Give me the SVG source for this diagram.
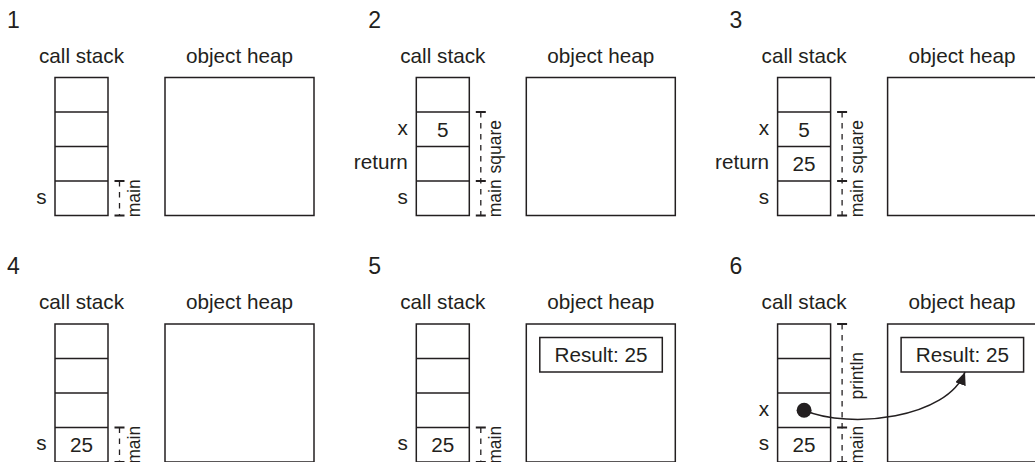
<svg xmlns="http://www.w3.org/2000/svg" xmlns:xlink="http://www.w3.org/1999/xlink" width="1035" height="462" viewBox="0 0 1035 462">
<style>
.t{font-family:"Liberation Sans",Arial,sans-serif;fill:#231f20}
.num{font-size:23px}
.h{font-size:20.7px;text-anchor:middle}
.lbl{font-size:20.7px;text-anchor:end}
.val{font-size:20.7px;text-anchor:middle}
.rot{font-size:17.5px;text-anchor:middle}
.box{fill:none;stroke:#231f20;stroke-width:1.5}
.dash{fill:none;stroke:#231f20;stroke-width:1.3;stroke-dasharray:5.5 5.5}
.tick{fill:none;stroke:#231f20;stroke-width:2}
.conn{fill:none;stroke:#231f20;stroke-width:1.5}
</style>
<defs>
<g id="stackShape"><rect x="55" y="77.5" width="53" height="138" class="box"/><path d="M55 112H108M55 146.5H108M55 181H108" class="box"/></g>
<rect id="heapShape" x="165" y="77.5" width="149" height="138" class="box"/>
<g id="heads"><text class="t h" x="81.5" y="62.7">call stack</text><text class="t h" x="239.5" y="62.7">object heap</text></g>
<marker id="arrow" markerUnits="userSpaceOnUse" markerWidth="14" markerHeight="12" refX="13" refY="5.5" orient="auto"><path d="M0,0 L13,5.5 L0,11 Z" fill="#231f20"/></marker>
</defs>
<rect width="1035" height="462" fill="#fff"/>

<g id="panel1">
<text class="t num" x="7" y="27.5">1</text>
<use xlink:href="#heads"/>
<use xlink:href="#stackShape"/>
<use xlink:href="#heapShape"/>
<text class="t lbl" x="46.5" y="203.6">s</text>
<path class="dash" d="M119.5 181V215.5"/>
<path class="tick" d="M114.5 181H124.5M114.5 215.5H124.5"/>
<text class="t rot" transform="translate(140,198.25) rotate(-90)">main</text>
</g>

<g id="panel2" transform="translate(361.3,0)">
<text class="t num" x="7" y="27.5">2</text>
<use xlink:href="#heads"/>
<use xlink:href="#stackShape"/>
<use xlink:href="#heapShape"/>
<text class="t lbl" x="46.5" y="134.6">x</text>
<text class="t lbl" x="46.5" y="169.1">return</text>
<text class="t lbl" x="46.5" y="203.6">s</text>
<text class="t val" x="81.5" y="136.6">5</text>
<path class="dash" d="M119.5 112V215.5"/>
<path class="tick" d="M114.5 112H124.5M114.5 181H124.5M114.5 215.5H124.5"/>
<text class="t rot" transform="translate(140,146.75) rotate(-90)">square</text>
<text class="t rot" transform="translate(140,198.25) rotate(-90)">main</text>
</g>

<g id="panel3" transform="translate(722.6,0)">
<text class="t num" x="7" y="27.5">3</text>
<use xlink:href="#heads"/>
<use xlink:href="#stackShape"/>
<use xlink:href="#heapShape"/>
<text class="t lbl" x="46.5" y="134.6">x</text>
<text class="t lbl" x="46.5" y="169.1">return</text>
<text class="t lbl" x="46.5" y="203.6">s</text>
<text class="t val" x="81.5" y="136.6">5</text>
<text class="t val" x="81.5" y="171.2">25</text>
<path class="dash" d="M119.5 112V215.5"/>
<path class="tick" d="M114.5 112H124.5M114.5 181H124.5M114.5 215.5H124.5"/>
<text class="t rot" transform="translate(140,146.75) rotate(-90)">square</text>
<text class="t rot" transform="translate(140,198.25) rotate(-90)">main</text>
</g>

<g id="panel4" transform="translate(0,246.5)">
<text class="t num" x="7" y="27.5">4</text>
<use xlink:href="#heads"/>
<use xlink:href="#stackShape"/>
<use xlink:href="#heapShape"/>
<text class="t lbl" x="46.5" y="203.6">s</text>
<text class="t val" x="81.5" y="205.6">25</text>
<path class="dash" d="M119.5 181V215.5"/>
<path class="tick" d="M114.5 181H124.5M114.5 215.5H124.5"/>
<text class="t rot" transform="translate(140,198.25) rotate(-90)">main</text>
</g>

<g id="panel5" transform="translate(361.3,246.5)">
<text class="t num" x="7" y="27.5">5</text>
<use xlink:href="#heads"/>
<use xlink:href="#stackShape"/>
<use xlink:href="#heapShape"/>
<text class="t lbl" x="46.5" y="203.6">s</text>
<text class="t val" x="81.5" y="205.6">25</text>
<path class="dash" d="M119.5 181V215.5"/>
<path class="tick" d="M114.5 181H124.5M114.5 215.5H124.5"/>
<text class="t rot" transform="translate(140,198.25) rotate(-90)">main</text>
<g id="result5">
<rect class="box" x="178.5" y="91" width="122.5" height="34.5"/>
<text class="t val" x="239.75" y="115">Result: 25</text>
</g>
</g>

<g id="panel6" transform="translate(722.6,246.5)">
<text class="t num" x="7" y="27.5">6</text>
<use xlink:href="#heads"/>
<use xlink:href="#stackShape"/>
<use xlink:href="#heapShape"/>
<text class="t lbl" x="46.5" y="169.1">x</text>
<text class="t lbl" x="46.5" y="203.6">s</text>
<text class="t val" x="81.5" y="205.6">25</text>
<circle cx="81.5" cy="163.75" r="7.5" fill="#231f20"/>
<path class="dash" d="M119.5 77.5V215.5"/>
<path class="tick" d="M114.5 77.5H124.5M114.5 181H124.5M114.5 215.5H124.5"/>
<text class="t rot" transform="translate(140,129.25) rotate(-90)">println</text>
<text class="t rot" transform="translate(140,198.25) rotate(-90)">main</text>
<g id="result6">
<rect class="box" x="178.5" y="91" width="122.5" height="34.5"/>
<text class="t val" x="239.75" y="115">Result: 25</text>
</g>
</g>

<g id="connectors">
<path class="conn" d="M804.1 410.25 C850 430, 948 418, 965 372" marker-end="url(#arrow)"/>
</g>
</svg>
